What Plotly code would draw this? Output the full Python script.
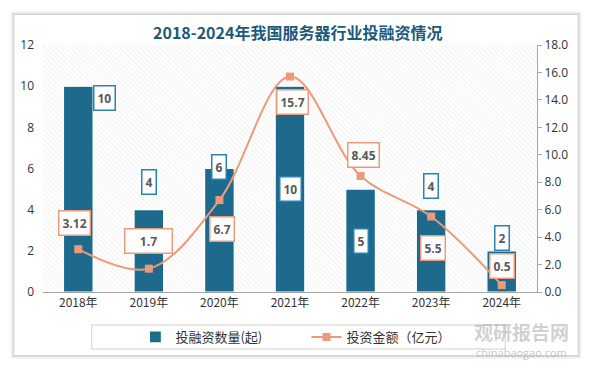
import plotly.graph_objects as go

years = ["2018年", "2019年", "2020年", "2021年", "2022年", "2023年", "2024年"]
deal_counts = [10, 4, 6, 10, 5, 4, 2]
invest_amounts = [3.12, 1.7, 6.7, 15.7, 8.45, 5.5, 0.5]
amount_labels = ["3.12", "1.7", "6.7", "15.7", "8.45", "5.5", "0.5"]
left_ticks = [0, 2, 4, 6, 8, 10, 12]
right_ticks = [0, 2, 4, 6, 8, 10, 12, 14, 16, 18]

# label placement (pixel offsets) - style only
bar_lbl_y = [10, 4, 6, 5, 2.5, 4, 2]
bar_lbl_dx = [26, 0, 0, 0, 0, 0, 0]
bar_lbl_dy = [-12, 28, 2, 0, 0, 24, 13]
line_lbl_dx = [-4, 0, 3, 2, 3, 2, 0]
line_lbl_dy = [26, 28, -29, -25, 21, -31, 19]

BAR = "#1D6A8D"
LINE = "#EC9A7C"
xs = list(range(len(years)))

fig = go.Figure()
fig.add_trace(go.Bar(x=[3], y=[12], width=[7], marker=dict(color="white", line=dict(width=0),
              pattern=dict(shape="\\", fgcolor="#D6D6D6", bgcolor="white", size=3.5, solidity=0.25)),
              showlegend=False, hoverinfo="skip"))
fig.add_trace(go.Bar(x=xs, y=deal_counts, width=0.42, name="投融资数量(起)",
                     marker=dict(color=BAR, line=dict(color="white", width=1.2))))
fig.add_trace(go.Scatter(x=xs, y=invest_amounts, yaxis="y2", name="投资金额（亿元）",
                         mode="lines+markers", line=dict(color=LINE, width=2, shape="spline", smoothing=1),
                         marker=dict(symbol="square", size=8, color=LINE)))

ann = []
for i in xs:
    ann.append(dict(x=i, y=bar_lbl_y[i], xref="x", yref="y", text=f"<b>{deal_counts[i]}</b>",
                    xshift=bar_lbl_dx[i], yshift=bar_lbl_dy[i], showarrow=False,
                    font=dict(size=12, color="#595959", family="Open Sans"),
                    bgcolor="white", bordercolor="#2C80B4", borderwidth=1.5, borderpad=3))
    ann.append(dict(x=i, y=invest_amounts[i], xref="x", yref="y2", text=f"<b>{amount_labels[i]}</b>",
                    xshift=line_lbl_dx[i], yshift=line_lbl_dy[i], showarrow=False,
                    width=(40 if i == 1 else None),
                    font=dict(size=12, color="#595959", family="Open Sans"),
                    bgcolor="white", bordercolor="#EC9A7C", borderwidth=1.5, borderpad=3))
ann.append(dict(x=0.515, y=(292 - 32) / 247, xref="paper", yref="paper", yanchor="middle",
                text="<b>2018-2024年我国服务器行业投融资情况</b>",
                showarrow=False, font=dict(size=16, color="#1B5A78", family="Noto Sans CJK SC")))
ann.append(dict(x=(521 - 40) / 497, y=(292 - 331) / 247, xref="paper", yref="paper", showarrow=False,
                text="<b>观研报告网</b>", xanchor="center", yanchor="middle",
                font=dict(size=19, color="rgba(150,150,150,0.45)", family="Noto Sans CJK SC")))
ann.append(dict(x=(521 - 40) / 497, y=(292 - 352) / 247, xref="paper", yref="paper", showarrow=False,
                text="chinabaogao.com", xanchor="center", yanchor="middle",
                font=dict(size=11, color="rgba(150,150,150,0.55)", family="Open Sans")))

shapes = []
for k, a in [(4, 0.03), (3, 0.04), (2, 0.05), (1, 0.06)]:
    shapes.append(dict(type="rect", xref="paper", yref="paper", layer="below",
                       x0=-0.058 - k / 497, x1=1.0825 + k / 497, y0=-0.255 - k / 247, y1=1.121 + k / 247,
                       line=dict(width=0), fillcolor=f"rgba(0,0,0,{a})"))
shapes.append(dict(type="rect", xref="paper", yref="paper", layer="below",
                   x0=-0.058, x1=1.0825, y0=-0.255, y1=1.121, line=dict(width=0), fillcolor="white"))
shapes.append(dict(type="rect", xref="paper", yref="paper", layer="above",
                   x0=(89 - 40) / 497, x1=(505 - 40) / 497, y0=(292 - 349) / 247, y1=(292 - 325) / 247,
                   line=dict(color="#D0D0D0", width=1)))

# page body has an 8px margin, so the figure is sized/offset to compensate
fig.update_layout(
    width=582, height=359,
    margin=dict(l=32, r=53, t=37, b=75),
    paper_bgcolor="white", plot_bgcolor="white",
    barmode="overlay",
    font=dict(family="Noto Sans CJK SC", size=12, color="#333333"),
    xaxis=dict(range=[-0.5, 6.5], tickvals=xs, ticktext=years, showline=True, linecolor="#A6A6A6",
               linewidth=1, ticks="", showgrid=False, zeroline=False, tickfont=dict(size=12, color="#333")),
    yaxis=dict(range=[0, 12], tickvals=left_ticks, showgrid=False, zeroline=False, showline=False,
               tickfont=dict(size=12, color="#333", family="Open Sans"), ticklabelstandoff=8),
    yaxis2=dict(range=[0, 18], tickvals=right_ticks, tickformat=".1f", overlaying="y", side="right",
                showgrid=False, zeroline=False, showline=True, linecolor="#A6A6A6", ticks="outside",
                ticklen=4, tickcolor="#A6A6A6", tickfont=dict(size=12, color="#333", family="Open Sans")),
    legend=dict(orientation="h", x=(133 - 40) / 497, y=(292 - 337) / 247, xanchor="left", yanchor="middle",
                bgcolor="rgba(0,0,0,0)", font=dict(size=13, color="#333"), entrywidth=126),
    annotations=ann, shapes=shapes, showlegend=True,
)

fig.write_html("out.html")
